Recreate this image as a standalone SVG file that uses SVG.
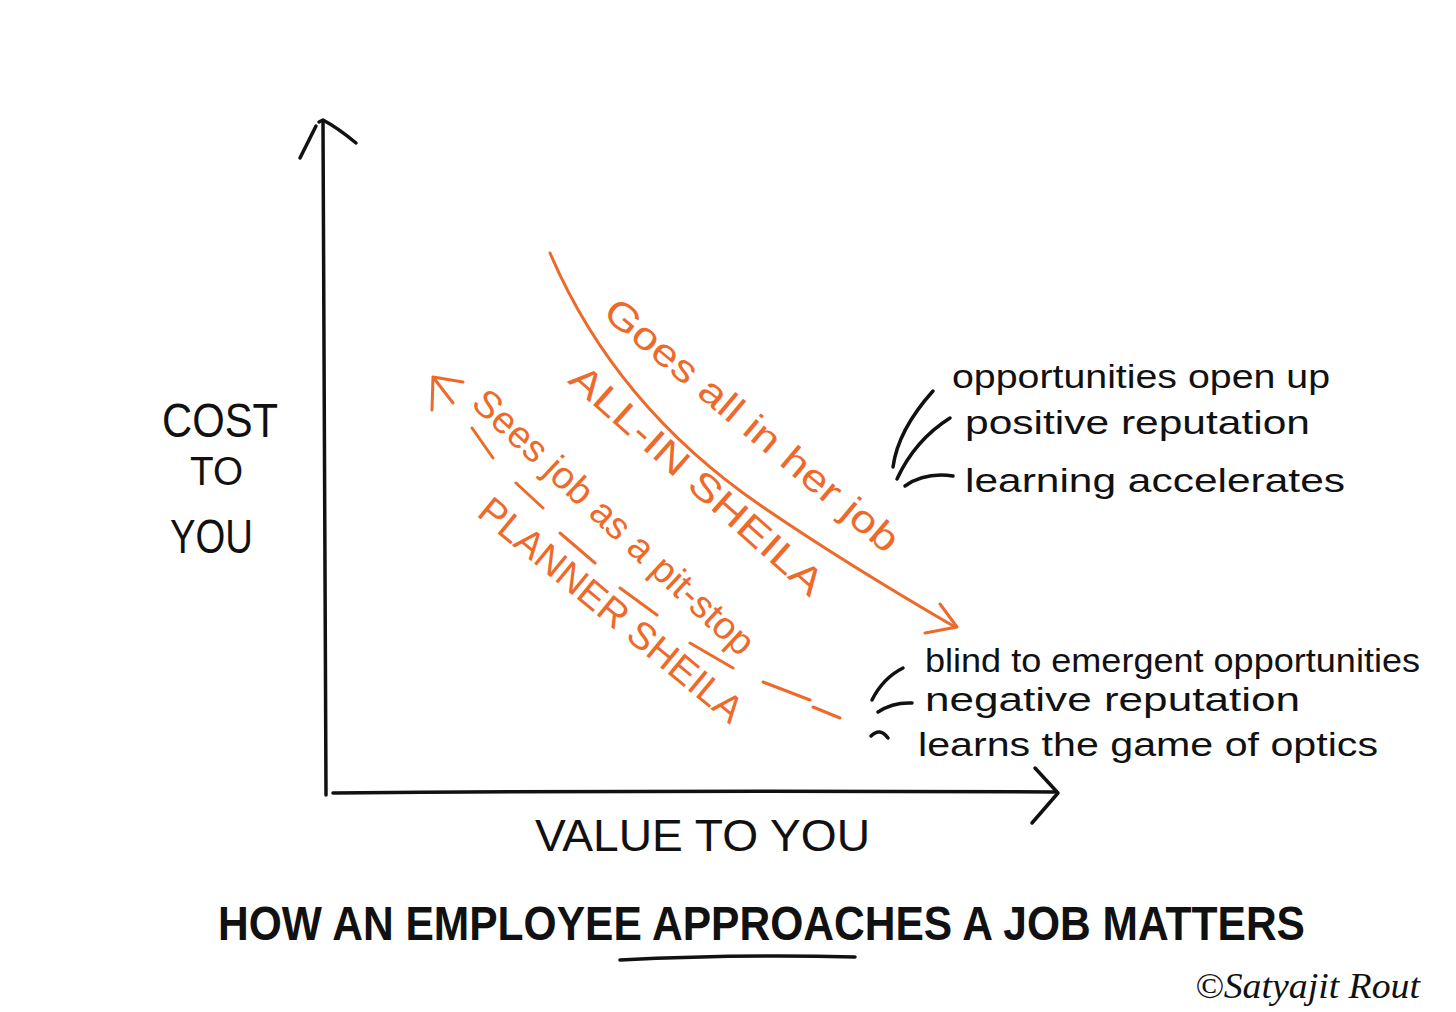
<svg xmlns="http://www.w3.org/2000/svg" width="1456" height="1012" viewBox="0 0 1456 1012">
<style>
.ink{fill:none;stroke:#111;stroke-width:3.5;stroke-linecap:round;stroke-linejoin:round}
.or{fill:none;stroke:#EE6A2A;stroke-width:3;stroke-linecap:round;stroke-linejoin:round}
.t{font-family:"Liberation Sans",Arial,sans-serif;fill:#111}
.ot{font-family:"Liberation Sans",Arial,sans-serif;fill:#EE6A2A;font-size:38px}
.hand{font-family:"Liberation Sans",Arial,sans-serif;fill:#111;font-size:34px}
</style>
<rect width="1456" height="1012" fill="#fff"/>

<g id="connectors">
  <!-- Y axis -->
  <path class="ink" d="M323 122 Q324 450 326 795"/>
  <path class="ink" d="M300 158 L316 126 M319 122 L323 120 Q338 128 356 143"/>
  <!-- X axis -->
  <path class="ink" d="M333 793 Q700 790 1055 792"/>
  <path class="ink" d="M1035 768 L1058 793 L1032 823"/>
  <!-- All-in curve -->
  <path class="or" d="M550 253 C600 370 680 450 760 505 C830 553 900 595 955 627"/>
  <path class="or" d="M940 604 L957 627 L925 633"/>
  <!-- Planner dashed line -->
  <path class="or" d="M453 403 L433 377 M463 382 L433 377 L432 410"/>
  <path class="or" d="M472 428 L493 458 M516 483 L543 508 M560 533 L595 563 M620 588 L657 615 M690 643 L733 668 M763 682 L810 700 M813 707 L840 718"/>
  <!-- bracket strokes top -->
  <path class="ink" d="M893 467 Q898 430 933 391"/>
  <path class="ink" d="M897 479 Q915 440 950 418"/>
  <path class="ink" d="M905 486 Q925 472 953 476"/>
  <!-- bracket strokes bottom -->
  <path class="ink" d="M872 700 Q883 678 903 668"/>
  <path class="ink" d="M878 712 Q893 702 912 703"/>
  <path class="ink" d="M871 736 Q880 727 888 738"/>
  <!-- title underline -->
  <path class="ink" d="M620 960 Q740 954 855 957" stroke-width="4.5"/>
</g>

<g id="y-label">
  <text class="t" x="162" y="437" font-size="48" textLength="116" lengthAdjust="spacingAndGlyphs">COST</text>
  <text class="t" x="190" y="485" font-size="40" textLength="53" lengthAdjust="spacingAndGlyphs">TO</text>
  <text class="t" x="170" y="553" font-size="48" textLength="83" lengthAdjust="spacingAndGlyphs">YOU</text>
</g>

<g id="x-label">
  <text class="t" x="535" y="851" font-size="44" textLength="335" lengthAdjust="spacingAndGlyphs">VALUE TO YOU</text>
</g>

<g id="all-in-sheila">
  <text class="ot" x="752" y="425" text-anchor="middle" dominant-baseline="central" transform="rotate(40 752 425)" textLength="372" lengthAdjust="spacingAndGlyphs">Goes all in her job</text>
  <text class="ot" x="697" y="480" text-anchor="middle" dominant-baseline="central" transform="rotate(41.6 697 480)" textLength="325" lengthAdjust="spacingAndGlyphs">ALL-IN SHEILA</text>
</g>

<g id="planner-sheila">
  <text class="ot" x="614" y="522" text-anchor="middle" dominant-baseline="central" transform="rotate(43 614 522)" textLength="370" lengthAdjust="spacingAndGlyphs">Sees job as a pit-stop</text>
  <text class="ot" x="611" y="610" text-anchor="middle" dominant-baseline="central" transform="rotate(39.5 611 610)" textLength="330" lengthAdjust="spacingAndGlyphs">PLANNER SHEILA</text>
</g>

<g id="all-in-outcomes">
  <text class="hand" x="952" y="388" textLength="378" lengthAdjust="spacingAndGlyphs">opportunities open up</text>
  <text class="hand" x="965" y="434" textLength="345" lengthAdjust="spacingAndGlyphs">positive reputation</text>
  <text class="hand" x="965" y="492" textLength="380" lengthAdjust="spacingAndGlyphs">learning accelerates</text>
</g>

<g id="planner-outcomes">
  <text class="hand" x="925" y="672" textLength="495" lengthAdjust="spacingAndGlyphs">blind to emergent opportunities</text>
  <text class="hand" x="925" y="711" textLength="375" lengthAdjust="spacingAndGlyphs">negative reputation</text>
  <text class="hand" x="918" y="756" textLength="460" lengthAdjust="spacingAndGlyphs">learns the game of optics</text>
</g>

<g id="title">
  <text class="t" x="218" y="940" font-size="48" font-weight="bold" textLength="1087" lengthAdjust="spacingAndGlyphs">HOW AN EMPLOYEE APPROACHES A JOB MATTERS</text>
</g>

<g id="signature">
  <text x="1195" y="998" font-family="'Liberation Serif',serif" font-style="italic" font-size="36" fill="#111" textLength="225" lengthAdjust="spacingAndGlyphs">©Satyajit Rout</text>
</g>
</svg>
